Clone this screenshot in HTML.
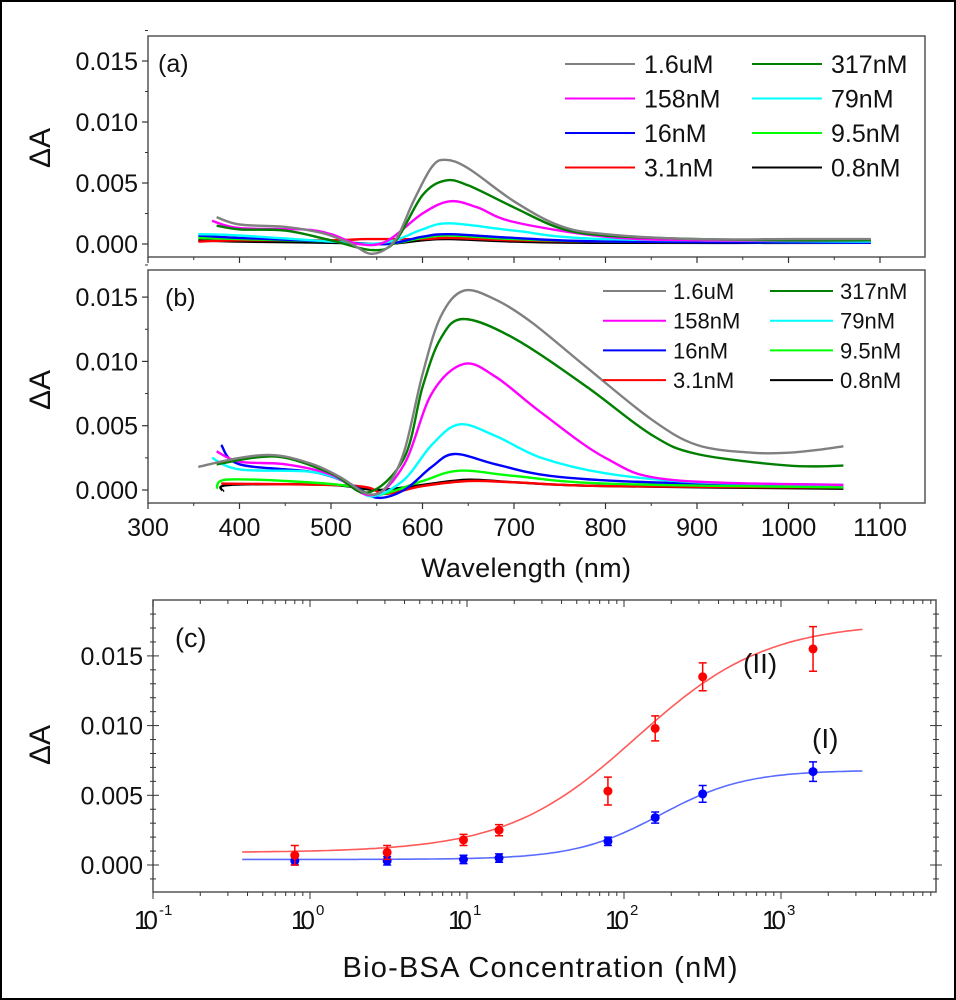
<!DOCTYPE html>
<html><head><meta charset="utf-8"><style>
body{margin:0;background:#fff;}
svg{display:block;font-family:"Liberation Sans",sans-serif;}
</style></head><body>
<svg id="fig" width="956" height="1000" viewBox="0 0 956 1000">
<rect x="1" y="1" width="954" height="998" fill="#fff" stroke="#000" stroke-width="2"/>
</svg>
<script>
// ---------- data ----------
const seriesNames = ["1.6uM","317nM","158nM","79nM","16nM","9.5nM","3.1nM","0.8nM"];
const seriesColors = ["#808080","#007f00","#ff00ff","#00ffff","#0000ff","#00ff00","#ff0000","#000000"];
// panel (a) spectra
const aWl = [
 [375,400,450,490,520,545,570,590,610,625,650,700,750,800,900,1000,1090],
 [375,400,450,500,545,570,600,625,650,700,750,800,900,1000,1090],
 [370,400,470,500,530,560,600,630,660,700,800,900,1090],
 [355,400,500,540,570,600,630,700,800,1090],
 [355,400,500,560,600,630,700,800,1090],
 [355,400,500,560,600,630,700,800,1090],
 [355,400,500,540,600,630,700,800,1090],
 [355,400,500,560,600,630,700,800,1090]];
const aVal = [
 [0.0022,0.0016,0.0014,0.0009,0.0001,-0.0008,0.0003,0.0035,0.0063,0.0069,0.0062,0.0035,0.0015,0.0008,0.0004,0.0004,0.0004],
 [0.0015,0.0012,0.0011,0.0003,-0.0005,0.0002,0.0040,0.0052,0.0048,0.0030,0.0013,0.0007,0.0004,0.0003,0.0003],
 [0.0019,0.0013,0.0012,0.0008,0.0000,0.0002,0.0025,0.0035,0.0030,0.0018,0.0006,0.0003,0.0003],
 [0.0008,0.0007,0.0002,0.0000,0.0003,0.0012,0.0017,0.0011,0.0004,0.0002],
 [0.0007,0.0005,0.0002,0.0000,0.0006,0.0008,0.0005,0.0002,0.0001],
 [0.0005,0.0004,0.0002,0.0000,0.0005,0.0007,0.0004,0.0002,0.0001],
 [0.0002,0.0003,0.0003,0.0004,0.0004,0.0005,0.0003,0.0002,0.0001],
 [0.0003,0.0002,0.0001,0.0000,0.0003,0.0004,0.0002,0.0001,0.0001]];
// panel (b) spectra
const bWl = [
 [355,400,440,480,510,540,560,580,600,620,645,680,720,780,850,900,960,1000,1030,1060],
 [375,440,500,540,580,600,620,645,700,780,850,900,1000,1060],
 [375,400,450,500,545,580,610,645,680,730,800,870,1060],
 [370,400,480,520,545,580,610,640,680,730,800,900,1060],
 [380,400,480,520,550,580,610,635,680,740,850,1060],
 [375,385,450,520,550,600,640,700,800,1060],
 [380,500,540,560,600,650,700,800,1060],
 [382,390,500,550,600,650,700,800,1060]];
const bVal = [
 [0.0018,0.0025,0.0027,0.0020,0.0010,-0.0003,0.0002,0.0030,0.0090,0.0135,0.0155,0.0148,0.0130,0.0095,0.0055,0.0035,0.0029,0.0029,0.0031,0.0034],
 [0.0020,0.0026,0.0013,-0.0002,0.0025,0.0080,0.0118,0.0133,0.0118,0.0080,0.0043,0.0028,0.0019,0.0019],
 [0.0030,0.0022,0.0020,0.0012,-0.0004,0.0020,0.0075,0.0098,0.0088,0.0060,0.0025,0.0008,0.0004],
 [0.0025,0.0016,0.0014,0.0005,-0.0005,0.0008,0.0035,0.0051,0.0042,0.0025,0.0013,0.0006,0.0004],
 [0.0035,0.0020,0.0014,0.0005,-0.0006,0.0000,0.0018,0.0028,0.0020,0.0011,0.0006,0.0004],
 [0.0001,0.0008,0.0007,0.0003,-0.0004,0.0007,0.0015,0.0011,0.0005,0.0002],
 [0.0005,0.0004,0.0002,-0.0003,0.0003,0.0007,0.0006,0.0003,0.0002],
 [-0.0001,0.0004,0.0004,0.0000,0.0004,0.0008,0.0006,0.0003,0.0001]];
const wlTicks = [300,400,500,600,700,800,900,1000,1100];
const yTicksSpec = [0,0.005,0.010,0.015];
const yTickLabels = ["0.000","0.005","0.010","0.015"];
// panel (c)
const conc = [0.8,3.1,9.5,16,79,158,317,1600];
const redVals = [0.0007,0.0009,0.0018,0.0025,0.0053,0.0098,0.0135,0.0155];
const redErr = [0.0007,0.0005,0.0004,0.0004,0.0010,0.0009,0.0010,0.0016];
const blueVals = [0.0003,0.0003,0.0004,0.0005,0.0017,0.0034,0.0051,0.0067];
const blueErr = [0.0003,0.0003,0.0003,0.0003,0.0003,0.0004,0.0006,0.0007];
const redFit = [0.0009,0.0174,120,1.05];   // base, top, EC50, n
const blueFit = [0.0004,0.0068,170,1.6];
const decadeExps = [-1,0,1,2,3];

// ---------- helpers ----------
const NS="http://www.w3.org/2000/svg";
const svg=document.getElementById('fig');
function mk(tag,attrs,parent){const e=document.createElementNS(NS,tag);for(const k in attrs)e.setAttribute(k,attrs[k]);(parent||svg).appendChild(e);return e;}
function smoothPath(pts){
  let d="M"+pts[0][0].toFixed(1)+","+pts[0][1].toFixed(1);
  for(let i=0;i<pts.length-1;i++){
    const p0=pts[i-1]||pts[i],p1=pts[i],p2=pts[i+1],p3=pts[i+2]||p2;
    const c1=[p1[0]+(p2[0]-p0[0])/6,p1[1]+(p2[1]-p0[1])/6];
    const c2=[p2[0]-(p3[0]-p1[0])/6,p2[1]-(p3[1]-p1[1])/6];
    d+=" C"+c1[0].toFixed(1)+","+c1[1].toFixed(1)+" "+c2[0].toFixed(1)+","+c2[1].toFixed(1)+" "+p2[0].toFixed(1)+","+p2[1].toFixed(1);
  }
  return d;
}

// ---------- spectrum panels ----------
function spectrumPanel(id,box,y0px,pxPer005,wls,vals,legend,showXLabels){
  const g=mk('g',{});
  
  
  const x=v=>148+(v-300)*0.915;
  const y=v=>y0px-v/0.005*pxPer005;
  const frame=mk('rect',{x:box[0],y:box[1],width:box[2]-box[0],height:box[3]-box[1],fill:'none',stroke:'#555','stroke-width':1.5},g);
  
  
  yTicksSpec.forEach((t,i)=>{
    mk('line',{x1:box[0]-6,x2:box[0],y1:y(t),y2:y(t),stroke:'#333','stroke-width':1.2},g);
    mk('line',{x1:box[0]-3,x2:box[0],y1:y(t+0.0025),y2:y(t+0.0025),stroke:'#333','stroke-width':1},g);
    const tl=mk('text',{x:box[0]-10,y:y(t)+9,'text-anchor':'end','font-size':25,fill:'#111'},g);
    tl.textContent=yTickLabels[i];
    
    
  });
  wlTicks.forEach(t=>{
    mk('line',{x1:x(t),x2:x(t),y1:box[3],y2:box[3]+6,stroke:'#333','stroke-width':1.2},g);
    if(t<1100) mk('line',{x1:x(t+50),x2:x(t+50),y1:box[3],y2:box[3]+3,stroke:'#333','stroke-width':1},g);
    if(showXLabels){
      const tl=mk('text',{x:x(t),y:box[3]+33,'text-anchor':'middle','font-size':25,fill:'#111'},g);
      tl.textContent=t;
      
      
    }
  });
  for(let s=wls.length-1;s>=0;s--){
    const pts=wls[s].map((w,i)=>[x(w),y(vals[s][i])]);
    const p=mk('path',{d:smoothPath(pts),fill:'none',stroke:seriesColors[s],'stroke-width':2.4},g);
    
    
  }
  seriesNames.forEach((n,i)=>{
    const col=i%2,row=Math.floor(i/2);
    const ly=legend.y0+row*legend.dy;
    const lx=col?legend.x2:legend.x1;
    const ln=mk('line',{x1:lx,x2:lx+legend.len,y1:ly,y2:ly,stroke:seriesColors[i],'stroke-width':2},g);
    
    
    const t=mk('text',{x:lx+legend.len+legend.gap,y:ly+legend.fs*0.36,'font-size':legend.fs,fill:'#111'},g);
    t.textContent=n;
    
    
  });
  return g;
}
spectrumPanel('a',[148,36,925,257],244,61,aWl,aVal,{x1:565,x2:752,y0:64,dy:34.5,len:70,gap:9,fs:25},false);
spectrumPanel('b',[148,270,925,503],490,64.3,bWl,bVal,{x1:603,x2:770,y0:291,dy:29.7,len:63,gap:7,fs:22},true);

function label(txt,x,y,fs,name,extra){const t=mk('text',Object.assign({x:x,y:y,'font-size':fs,fill:'#111'},extra||{}));t.textContent=txt;return t;}
label('(a)',158,72,25,'panel-label-a');
label('(b)',165,306,25,'panel-label-b');
label('ΔA',50,148,30,'y-axis-title-a',{transform:'rotate(-90 50 148)','text-anchor':'middle'});
label('ΔA',50,390,30,'y-axis-title-b',{transform:'rotate(-90 50 390)','text-anchor':'middle'});
label('Wavelength (nm)',526,577,27,'x-axis-title-wavelength',{'text-anchor':'middle',textLength:210});

// ---------- panel (c) ----------
(function(){
  const L=153,R=936,T=600,B=892;
  const x=c=>L+(Math.log10(c)+1)*157;
  const y=v=>865-v/0.005*69.7;
  const g=mk('g',{});
  
  
  const fr=mk('rect',{x:L,y:T,width:R-L,height:B-T,fill:'none',stroke:'#555','stroke-width':1.5},g);
  
  
  for(let k=-1;k<=18;k++){
    const v=k*0.001,major=(k%5===0);
    const len=major?6:3;
    mk('line',{x1:L-len,x2:L,y1:y(v),y2:y(v),stroke:'#333','stroke-width':1},g);
    mk('line',{x1:R,x2:R+len,y1:y(v),y2:y(v),stroke:'#333','stroke-width':1},g);
    mk('line',{x1:L,x2:L+len,y1:y(v),y2:y(v),stroke:'#333','stroke-width':1},g);
    mk('line',{x1:R-len,x2:R,y1:y(v),y2:y(v),stroke:'#333','stroke-width':1},g);
  }
  yTicksSpec.forEach((t,i)=>{
    const tl=mk('text',{x:L-10,y:y(t)+9,'text-anchor':'end','font-size':25,fill:'#111'},g);
    tl.textContent=yTickLabels[i];
    
    
  });
  decadeExps.forEach(e=>{
    const base=Math.pow(10,e);
    for(let m=1;m<=9;m++){
      const c=base*m;
      if(x(c)>R)break;
      const len=m===1?7:4;
      mk('line',{x1:x(c),x2:x(c),y1:B,y2:B+len,stroke:'#333','stroke-width':1},g);
      mk('line',{x1:x(c),x2:x(c),y1:T,y2:T+len,stroke:'#333','stroke-width':1},g);
    }
    const t=mk('text',{x:x(base)-7,y:B+37,'text-anchor':'middle','font-size':26,fill:'#111',textLength:24},g);
    t.textContent='10';
    
    
    const sp=mk('text',{x:x(base)+6,y:B+23,'font-size':15,fill:'#111'},g);
    sp.textContent=String(e);
    
    
  });
  function fitCurve(p,color,name){
    const pts=[];
    for(let lc=Math.log10(0.37);lc<=Math.log10(3300);lc+=0.05){
      const c=Math.pow(10,lc);const r=Math.pow(c/p[2],p[3]);
      pts.push([x(c),y(p[0]+(p[1]-p[0])*r/(1+r))]);
    }
    const pa=mk('path',{d:smoothPath(pts),fill:'none',stroke:color,'stroke-width':1.6},g);
    
    
  }
  function points(vals,errs,color,name){
    conc.forEach((c,i)=>{
      const cx=x(c),y1=y(vals[i]-errs[i]),y2=y(vals[i]+errs[i]);
      const eb=mk('path',{d:`M${cx},${y1}V${y2}M${cx-4},${y1}H${cx+4}M${cx-4},${y2}H${cx+4}`,stroke:color,'stroke-width':1.5,fill:'none'},g);
      
      
      const pt=mk('circle',{cx:cx,cy:y(vals[i]),r:4.5,fill:color},g);
      
      
    });
  }
  fitCurve(blueFit,'#5a6cff','fit-curve-I');
  fitCurve(redFit,'#ff5a5a','fit-curve-II');
  points(blueVals,blueErr,'#0000ff','series-I');
  points(redVals,redErr,'#ff0000','series-II');
})();
label('(c)',175,647,27,'panel-label-c');
label('(II)',743,673,28,'curve-label-II');
label('(I)',812,748,28,'curve-label-I');
label('ΔA',50,745,30,'y-axis-title-c',{transform:'rotate(-90 50 745)','text-anchor':'middle'});
label('Bio-BSA Concentration (nM)',540,977,29,'x-axis-title-concentration',{'text-anchor':'middle',textLength:395});
</script>
</body></html>
